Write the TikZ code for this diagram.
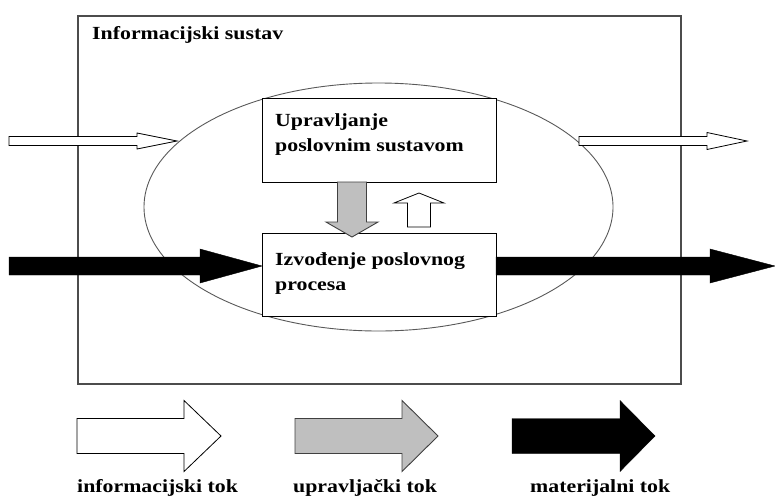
\documentclass[tikz,border=0pt]{standalone}
\usepackage{fontspec}
\usetikzlibrary{calc}
\newfontfamily\lblfont[FakeStretch=1.18]{Liberation Serif}
\newcommand{\harrow}[7] % style, x start, x head, x tip, y, half shaft, half head
{
	\draw[#1] (#2,#5-#6) -- (#3,#5-#6) -- (#3,#5-#7) -- (#4,#5)
		-- (#3,#5+#7) -- (#3,#5+#6) -- (#2,#5+#6) -- cycle;
}
\newcommand{\varrow}[7] % style, y start, y head, y tip, x, half shaft, half head
{
	\draw[#1] (#5-#6,#2) -- (#5-#6,#3) -- (#5-#7,#3) -- (#5,#4)
		-- (#5+#7,#3) -- (#5+#6,#3) -- (#5+#6,#2) -- cycle;
}

\begin{document}
\begin{tikzpicture}[x=1pt, y=-1pt,
	lbl/.style={font={\lblfont\bfseries\fontsize{18.5}{25}\selectfont}, inner sep=0pt, align=left},
	box/.style={draw=black, fill=white, line width=0.9pt, inner sep=0pt},
	info/.style={draw=black, fill=white, line width=0.8pt, line join=miter},
	ctrl/.style={draw=black!75, fill=black!25, line width=0.9pt},
	mat/.style={draw=black, fill=black}]
	% page 775 x 501
	\useasboundingbox (0,0) rectangle (775,501);
	\node[draw=black!70, line width=1.5pt, minimum width=603pt, minimum height=368pt, anchor=north west] (sustav) at (77,15) {};
	\node[lbl, anchor=base west] (naslov) at (92,39) {Informacijski sustav};
	\draw[draw=black!65, line width=0.9pt] (378.5,207) ellipse [x radius=234.5, y radius=124];
	
	% boxes
	\node[box, minimum width=234pt, minimum height=84pt, anchor=north west] (upravljanje) at (262,98) {};
	\node[lbl, anchor=north west] (upravljanjetxt) at ($(upravljanje.north west)+(13,15)$) {Upravljanje\\poslovnim sustavom};
	\node[box, minimum width=234pt, minimum height=83pt, anchor=north west] (izvodjenje) at (262,233) {};
	\node[lbl, anchor=north west] (izvodjenjetxt) at ($(izvodjenje.north west)+(13,19)$) {Izvođenje poslovnog\\procesa};
	
	% flows
	\harrow{info}{9}{137}{177}{141}{4.5}{8};
	\harrow{info}{579}{707}{747}{141}{4.5}{8.5};
	\harrow{mat}{9}{200}{262}{266}{9}{17};
	\harrow{mat}{496}{710}{775}{266}{9}{17};
	\varrow{ctrl}{182}{222}{237}{352}{14.5}{26};
	\varrow{info}{227}{203}{193}{419}{11.5}{25};
	
	% legend
	\harrow{info}{77}{184}{221}{436}{17.5}{35.5};
	\harrow{ctrl}{295}{402}{438}{436}{17.5}{35.5};
	\harrow{mat}{512}{620}{655}{436}{17.5}{35.5};
	\node[lbl, anchor=base west] (infotok) at (77,492) {informacijski tok};
	\node[lbl, anchor=base west] (uprtok) at (293,492) {upravljački tok};
	\node[lbl, anchor=base west] (mattok) at (530,492) {materijalni tok};
\end{tikzpicture}
\end{document}
